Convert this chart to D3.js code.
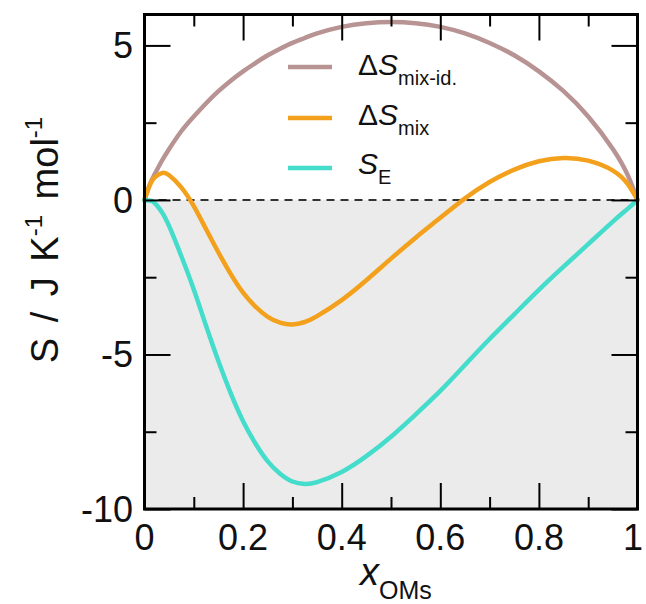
<!DOCTYPE html>
<html>
<head>
<meta charset="utf-8">
<script src="https://cdn.jsdelivr.net/npm/d3@7"></script>
<style>
  html, body { margin: 0; padding: 0; background: #fff; }
  svg { display: block; font-family: "Liberation Sans", Arial, Helvetica, sans-serif; }
</style>
</head>
<body>
<svg id="chart" width="646" height="604"></svg>
<script>
// ---- data ----
const xValues      = [0, 0.01, 0.02, 0.035, 0.05, 0.075, 0.1, 0.125, 0.15, 0.175, 0.2, 0.225, 0.25, 0.275, 0.3, 0.325, 0.35, 0.4, 0.45, 0.5, 0.55, 0.6, 0.65, 0.7, 0.75, 0.8, 0.85, 0.9, 0.95, 0.98, 1];
const dSmixIdeal   = [0, 0.47, 0.81, 1.26, 1.65, 2.23, 2.70, 3.13, 3.52, 3.86, 4.16, 4.43, 4.68, 4.89, 5.08, 5.24, 5.39, 5.60, 5.72, 5.76, 5.72, 5.60, 5.39, 5.08, 4.68, 4.16, 3.52, 2.70, 1.65, 0.81, 0];
const dSmix        = [0, 0.45, 0.72, 0.87, 0.80, 0.40, -0.2, -0.95, -1.7, -2.4, -3.0, -3.45, -3.78, -3.97, -4.03, -3.95, -3.76, -3.24, -2.6, -1.9, -1.22, -0.58, 0.05, 0.58, 0.98, 1.25, 1.36, 1.27, 0.95, 0.52, 0];
const sExcess      = [0, -0.02, -0.09, -0.39, -0.85, -1.83, -2.9, -4.08, -5.22, -6.26, -7.16, -7.88, -8.46, -8.86, -9.11, -9.19, -9.13, -8.8, -8.29, -7.66, -6.94, -6.18, -5.34, -4.5, -3.7, -2.91, -2.16, -1.43, -0.7, -0.29, 0];
const seriesNames  = ["mix-id.", "mix", "E"];
const xTickLabels  = ["0", "0.2", "0.4", "0.6", "0.8", "1"];
const yTickLabels  = ["-10", "-5", "0", "5"];
const xMajorTicks  = [0, 0.2, 0.4, 0.6, 0.8, 1];
const xMinorTicks  = [0.1, 0.3, 0.5, 0.7, 0.9];
const yMajorTicks  = [-10, -5, 0, 5];
const yMinorTicks  = [-7.5, -2.5, 2.5];

const colors = ["#b89393", "#f3a11c", "#44dccb"];

const svg = d3.select("#chart");
const L = 144.5, R = 637.5, T = 14.5, B = 509;
const x = d3.scaleLinear().domain([0, 1]).range([L, R]);
const y = d3.scaleLinear().domain([-10, 6]).range([B, T]);

// grey region below zero
svg.append("rect")
  .attr("x", x(0)).attr("y", y(0))
  .attr("width", x(1) - x(0)).attr("height", y(-10) - y(0))
  .attr("fill", "#ebebeb");

// dashed zero line
svg.append("line")
  .attr("x1", x(0)).attr("x2", x(1))
  .attr("y1", y(0)).attr("y2", y(0))
  .attr("stroke", "#333").attr("stroke-width", 2)
  .attr("stroke-dasharray", "8,6");

// curves
const seriesData = [dSmixIdeal, dSmix, sExcess];
const line = d3.line()
  .x(d => x(d[0])).y(d => y(d[1]))
  .curve(d3.curveNatural);
seriesData.forEach((vals, i) => {
  svg.append("path")
    .datum(xValues.map((xv, j) => [xv, vals[j]]))
    .attr("d", line)
    .attr("fill", "none")
    .attr("stroke", colors[i])
    .attr("stroke-width", 4.5)
    .attr("stroke-linejoin", "round")
    .attr("stroke-linecap", "round");
});

// axes (ticks inside, mirrored on all sides)
const MAJ = 26, MIN = 12;
function addAxis(axisGen, transform) {
  const g = svg.append("g").attr("transform", transform).call(axisGen);
  g.select(".domain").remove();
  g.selectAll(".tick line").attr("stroke", "#000").attr("stroke-width", 2);
  return g;
}
addAxis(d3.axisTop(x).tickValues(xMajorTicks).tickSize(MAJ).tickFormat(""), `translate(0,${B})`);
addAxis(d3.axisTop(x).tickValues(xMinorTicks).tickSize(MIN).tickFormat(""), `translate(0,${B})`);
addAxis(d3.axisBottom(x).tickValues(xMajorTicks).tickSize(MAJ).tickFormat(""), `translate(0,${T})`);
addAxis(d3.axisBottom(x).tickValues(xMinorTicks).tickSize(MIN).tickFormat(""), `translate(0,${T})`);
addAxis(d3.axisRight(y).tickValues(yMajorTicks).tickSize(MAJ).tickFormat(""), `translate(${L},0)`);
addAxis(d3.axisRight(y).tickValues(yMinorTicks).tickSize(MIN).tickFormat(""), `translate(${L},0)`);
addAxis(d3.axisLeft(y).tickValues(yMajorTicks).tickSize(MAJ).tickFormat(""), `translate(${R},0)`);
addAxis(d3.axisLeft(y).tickValues(yMinorTicks).tickSize(MIN).tickFormat(""), `translate(${R},0)`);

// frame
svg.append("rect")
  .attr("x", L).attr("y", T).attr("width", R - L).attr("height", B - T)
  .attr("fill", "none").attr("stroke", "#000").attr("stroke-width", 3);

// tick labels
svg.append("g").selectAll("text").data(xMajorTicks).join("text")
  .attr("x", d => Math.min(x(d), 633)).attr("y", 550)
  .attr("text-anchor", "middle").attr("font-size", 36).attr("fill", "#111")
  .text((d, i) => xTickLabels[i]);
svg.append("g").selectAll("text").data(yMajorTicks).join("text")
  .attr("x", 133).attr("y", d => y(d)).attr("dy", "0.35em")
  .attr("text-anchor", "end").attr("font-size", 36).attr("fill", "#111")
  .text((d, i) => yTickLabels[i]);

// x axis title
const xt = svg.append("text").attr("x", 360).attr("y", 585).attr("fill", "#111");
xt.append("tspan").attr("font-style", "italic").attr("font-size", 38).text("x");
xt.append("tspan").attr("font-size", 25).attr("dy", 14).text("OMs");

// y axis title
const yt = svg.append("text")
  .attr("transform", "translate(58,240) rotate(-90)")
  .attr("text-anchor", "middle").attr("font-size", 38).attr("fill", "#111")
  .attr("word-spacing", 5);
yt.append("tspan").text("S / J K");
yt.append("tspan").attr("font-size", 24).attr("dy", -16).text("-1");
yt.append("tspan").attr("dy", 16).text(" mol");
yt.append("tspan").attr("font-size", 24).attr("dy", -16).text("-1");

// legend
const legendY = [67, 118, 168];
const legendBase = [75, 125, 174];
seriesNames.forEach((name, i) => {
  svg.append("line")
    .attr("x1", 288).attr("x2", 332)
    .attr("y1", legendY[i]).attr("y2", legendY[i])
    .attr("stroke", colors[i]).attr("stroke-width", 4.5);
  const t = svg.append("text").attr("x", 358).attr("y", legendBase[i]).attr("fill", "#111").attr("font-size", 30);
  if (i < 2) t.append("tspan").text("Δ");
  t.append("tspan").attr("font-style", "italic").text("S");
  t.append("tspan").attr("font-size", 20).attr("dy", 10).text(name);
});
</script>
</body>
</html>
